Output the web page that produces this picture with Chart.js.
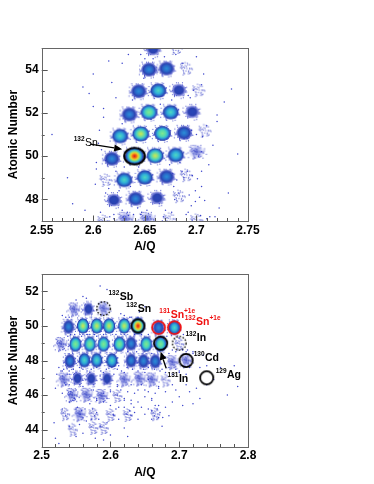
<!DOCTYPE html>
<html><head><meta charset="utf-8">
<script src="https://cdn.jsdelivr.net/npm/chart.js@4"></script>
<style>html,body{margin:0;padding:0;background:#fff}
canvas{position:absolute;left:0;top:0;filter:blur(.3px)}
#w{position:relative;width:374px;height:484px;overflow:hidden}</style>
</head><body><div id="w"><canvas id="a" width="374" height="484"></canvas><canvas id="b" width="374" height="484"></canvas></div>
<script>
const topA=[2.658,2.68,2.654,2.671,2.69,2.644,2.663,2.683,2.702,2.635,2.654,2.675,2.696,2.626,2.646,2.667,2.688,2.708,2.618,2.64,2.66,2.68,2.7,2.612,2.63,2.65,2.671,2.69,2.62,2.641,2.662,2.683,2.61,2.631,2.652,2.674,2.70];
const topZ=[54.95,55,54,54.05,54.05,53,53.03,53.05,53.05,51.93,52.03,52.03,52.05,50.93,51.03,51.05,51.08,51.18,49.88,50,50.02,50.05,50.2,48.9,48.9,49.02,49.05,49.12,47.97,48.03,48.07,48.15,47,47.1,47.1,47.1,47.05];
const topI=[2,0,3,3,0,3,4,2,0,3,5,4,2,4,6,5,3,0,3,8,6,4,1,0,4,4,3,0,2,3,2,0,0,1,1,0,0];
const botA=[2.547,2.568,2.59,2.539,2.56,2.58,2.598,2.62,2.64,2.67,2.693,2.528,2.549,2.57,2.59,2.613,2.63,2.652,2.673,2.70,2.541,2.562,2.58,2.602,2.63,2.648,2.665,2.69,2.71,2.532,2.552,2.572,2.595,2.62,2.642,2.66,2.68,2.544,2.565,2.587,2.61,2.534,2.555,2.575,2.6,2.625,2.665,2.545,2.575,2.59];
const botZ=[50.95,50.98,51,49.95,50,50,50,50,50,49.9,49.9,48.95,48.95,48.95,48.95,48.95,48.98,48.95,48.95,48.95,47.97,48.02,48.02,48,48,47.97,47.95,47.9,48,46.9,46.97,46.95,46.95,46.9,46.95,46.9,46.85,46,46.02,45.95,45.95,44.9,44.9,44.9,44.85,44.85,44.9,44,44.1,44.1];
const botI=[1,2,1,3,6,6,6,6,8,3,4,1,5,5,5,5,3,5,5,0,3,4,4,4,3,3,3,1,1,1,2,2,2,1,1,1,0,1,1,1,0,0,1,0,0,0,0,0,0,0];
const topDotA=[2.56,2.575,2.59,2.6,2.605,2.612,2.58,2.592,2.603,2.61,2.6,2.615,2.607,2.602,2.622,2.618,2.612,2.608,2.62,2.628,2.625,2.634,2.63,2.639,2.643,2.646,2.65,2.638,2.658,2.665,2.669,2.674,2.676,2.68,2.686,2.692,2.695,2.699,2.705,2.712,2.716,2.72,2.727,2.734,2.74,2.731,2.722,2.713,2.707,2.7,2.694,2.688,2.684,2.678,2.67,2.664,2.656,2.649,2.644,2.636,2.628,2.622,2.616,2.61,2.606,2.603,2.596,2.615,2.628,2.634,2.646,2.652,2.668,2.676,2.69,2.696,2.704,2.71,2.718,2.72,2.705,2.697,2.692,2.687,2.683,2.679,2.693,2.699,2.703,2.708,2.71,2.706,2.7,2.695,2.691,2.705,2.702,2.686,2.681,2.677,2.62,2.626,2.633,2.629,2.647,2.655,2.66,2.667,2.688,2.691,2.696,2.701,2.705];
const topDotZ=[51,49,53.2,52.3,50.6,48.3,47.8,47.5,49.4,51.8,53.8,54.4,47.4,48.7,52.7,53.4,49.8,50.3,47.3,54.3,48.4,54.7,49.5,47.3,47.6,54.7,54.5,52.6,54.5,52.4,54.6,49.6,52.6,54.7,54.3,47.4,47.7,48.4,48.6,49.6,50.5,51.6,52.5,53.1,50.1,48.3,47.6,47.2,53.8,54.6,52.7,50.8,49.7,48.6,47.5,47.8,51.7,53.6,49.5,48.6,51.5,49.3,47.2,52.2,51.2,49.7,52.9,48.5,47.5,47.25,47.3,47.5,47.2,47.4,47.3,47,47.25,47.1,47.2,51.9,53.3,53.05,52.8,54.3,48.3,48,48.2,47.9,48.1,47.95,51.4,50.9,51,51.2,50.8,50.2,50,49.3,48.9,49.2,47.1,46.9,47.4,47.2,47.4,47.2,46.95,47,49,49.3,49.1,48.95,49.3];
const botDotA=[2.52,2.525,2.518,2.53,2.535,2.54,2.55,2.555,2.56,2.565,2.572,2.578,2.585,2.59,2.595,2.6,2.605,2.612,2.62,2.625,2.63,2.635,2.64,2.645,2.65,2.655,2.66,2.665,2.67,2.675,2.68,2.685,2.69,2.695,2.7,2.705,2.71,2.715,2.72,2.725,2.73,2.74,2.75,2.76,2.77,2.78,2.785,2.52,2.53,2.54,2.55,2.56,2.57,2.58,2.59,2.6,2.61,2.62,2.63,2.64,2.65,2.66,2.67,2.68,2.69,2.7,2.53,2.533,2.537,2.54,2.552,2.556,2.558,2.56,2.563,2.574,2.577,2.58,2.583,2.6,2.604,2.608,2.612,2.62,2.624,2.628,2.63,2.634,2.66,2.664,2.668,2.672,2.676,2.67,2.655,2.65,2.645,2.64,2.62,2.61,2.605,2.595,2.59,2.585,2.575,2.57,2.565,2.555,2.55,2.54,2.535,2.53,2.522,2.54,2.545,2.55,2.548,2.542,2.57,2.575,2.58,2.59,2.595,2.6,2.58,2.572,2.61,2.615,2.62,2.625,2.63,2.635,2.64,2.65,2.655,2.66,2.665,2.67,2.675,2.68,2.685,2.69,2.695,2.7,2.705,2.71,2.715,2.72,2.73,2.735,2.74,2.68,2.672,2.664,2.655,2.648,2.64,2.632,2.624,2.616,2.61,2.602,2.594,2.586,2.58,2.572,2.566,2.56,2.555,2.546,2.54,2.532,2.528,2.525,2.6,2.612,2.625,2.638,2.65,2.66,2.672,2.685,2.695,2.705,2.71,2.72,2.712,2.706,2.7,2.69,2.682,2.675,2.655,2.645,2.635,2.62,2.608,2.59,2.58,2.57,2.56,2.548,2.538,2.577,2.567,2.558,2.542,2.535,2.55,2.56,2.565,2.585,2.595,2.54,2.53,2.62,2.628,2.615,2.642,2.62,2.63,2.64,2.65];
const botDotZ=[43.5,43.2,44.4,45.2,44.8,44.2,43.6,44.3,43.8,44.5,44.6,43.5,44.2,43.4,44.4,43.7,44.8,45.3,44.1,43.6,45.5,45,44.6,45.3,44.9,45.2,44.6,45.4,44.7,44.2,45.3,44.8,45.6,46.3,45.9,45.4,46.6,46.2,45.5,46.4,45.8,46.6,46.9,47.6,46,47.7,46.5,46.4,46.1,45.6,45.2,46.5,45.5,45.7,45.6,46.3,46.5,45.7,46.6,45.6,46.3,45.7,46.5,46.2,46.6,47.3,47.4,46.7,47.2,46.6,45.3,44.9,45.1,44.7,45.2,45.2,44.8,45,44.6,45.4,44.9,45.2,44.6,45.3,44.9,45.1,44.8,45.3,45.1,44.8,45.2,45,44.7,45.4,46.9,47.3,46.6,47.1,47.3,46.6,47.2,46.7,47.3,47.1,46.6,47.3,47.1,46.6,47.3,47.2,46.6,47.1,47.2,46,45.7,46.3,45.8,46.2,45.9,46.3,45.7,46.1,45.8,46.2,45.8,46.3,46,46.3,45.8,46.2,45.7,46.1,46.3,45.9,46.2,45.8,46.1,46.4,47.5,47.3,47.6,47.2,47.5,47.4,47.7,47.2,47.6,48.4,47.6,48.3,47.7,48.2,47.4,47.5,47.6,47.5,47.4,47.5,47.6,47.4,47.5,47.6,47.5,47.4,47.6,47.5,47.4,47.5,47.6,47.5,47.4,47.5,47.4,47.6,48.3,47.7,48.5,48.5,48.5,48.4,48.5,48.4,48.5,48.6,48.5,48.5,48.6,49.5,49.3,48.6,49.4,48.7,49.5,49.5,49.5,49.5,49.5,49.5,49.4,49.5,49.5,49.5,49.4,49.5,49.5,49.4,49.5,50.5,51.5,51.7,51.6,52.3,52.1,50.5,50.6,50.4,50.5,50.7,50.8,50.6,50.5,50.5,51.1,51.3,50.9,51.2,51.4,50.7,50.9];
const topCircleA=[2.64],topCircleZ=[50];
const blackCircleA=[2.64,2.673,2.71,2.74],blackCircleZ=[50,49,48,47];
const redCircleA=[2.67,2.693],redCircleZ=[49.9,49.9];
const dashCircleA=[2.59,2.70],dashCircleZ=[51,49];
const topLabels=[[2.581,50.45,'132','Sn','#000','']];
const botLabels=[[2.597,51.52,'132','Sb','#000',''],[2.623,50.81,'132','Sn','#000',''],[2.671,50.43,'131','Sn','#f01010','+1e'],[2.708,50.04,'132','Sn','#f01010','+1e'],[2.709,49.14,'132','In','#000',''],[2.721,47.97,'130','Cd','#000',''],[2.753,46.97,'129','Ag','#000',''],[2.683,46.78,'131','In','#000','']];
const topArrows=[[2.597,50.55,2.628,50.32]];
const botArrows=[[2.681,47.55,2.673,48.5]];
const FONT='"Liberation Sans",Arial,sans-serif';
// colour ramp of each intensity, centre first
const ramps=[
 [],
 [[0,'rgba(40,55,190,.8)'],[.5,'rgba(70,85,210,.4)'],[1,'rgba(120,120,240,0)']],
 [[0,'#2848b8'],[.55,'#2a40b0'],[.82,'rgba(60,70,200,.55)'],[1,'rgba(100,110,230,0)']],
 [[0,'#2a90d8'],[.4,'#2a68c8'],[.7,'#2a40b0'],[.9,'rgba(50,60,190,.55)'],[1,'rgba(100,110,230,0)']],
 [[0,'#50d8c0'],[.4,'#30b0d8'],[.65,'#2a70c8'],[.85,'#2a40ac'],[1,'rgba(100,110,230,0)']],
 [[0,'#80e890'],[.4,'#50d8b0'],[.6,'#30b0d8'],[.8,'#2a60c0'],[.93,'rgba(42,56,168,.8)'],[1,'rgba(100,110,230,0)']],
 [[0,'#d0e850'],[.25,'#90e080'],[.5,'#48d0c0'],[.7,'#2a90d0'],[.87,'#2a40ac'],[1,'rgba(100,110,230,0)']],
 [[0,'#f0e030'],[.3,'#80e088'],[.6,'#30a0d8'],[1,'rgba(100,110,230,0)']],
 [[0,'#e01818'],[.22,'#f07018'],[.38,'#f0d028'],[.52,'#90e070'],[.66,'#38c0d0'],[.82,'#2a70c8'],[.95,'#2a38a8'],[1,'rgba(60,70,200,.3)']]
];
const speckN=[30,44,60,70,70,70,70,70,70];
const sizeOf=[1,1,.92,1,1.03,1.05,1.08,1.08,1.15];
function tex(i){const s=Math.sin(i*12.9898)*43758.5453;return s-Math.floor(s);}
function blobSprite(level,rx0,ry0){
  const rx=rx0*sizeOf[level],ry=ry0*sizeOf[level];
  const S=Math.ceil(Math.max(rx,ry)*2.6)+2,c=document.createElement('canvas');c.width=c.height=S;
  const g=c.getContext('2d'),m=S/2;
  if(ramps[level].length){
    g.save();g.translate(m,m);g.scale(rx,ry);
    const gr=g.createRadialGradient(0,0,0,0,0,1);
    ramps[level].forEach(s=>gr.addColorStop(s[0],s[1]));
    g.fillStyle=gr;g.beginPath();g.arc(0,0,1,0,7);g.fill();g.restore();
  }
  const n=speckN[level];
  g.fillStyle='rgba(40,50,195,.85)';
  for(let i=0;i<n;i++){
    const t=Math.sqrt((i+.5)/n),a=i*2.39996+tex(i)*1.2,q=(level===0?.95:1.22)*t*(.8+.3*tex(i+50));
    if(level>=2&&q<.85)continue;
    g.fillRect(m+Math.cos(a)*rx*q-.5,m+Math.sin(a)*ry*q-.5,1,1);
  }
  return c;
}
function ringSprite(rx,ry,color,w,dash){
  const S=Math.ceil(Math.max(rx,ry)*2+w*2+2),c=document.createElement('canvas');c.width=c.height=S;
  const g=c.getContext('2d');g.strokeStyle=color;g.lineWidth=w;if(dash)g.setLineDash(dash);
  g.beginPath();g.ellipse(S/2,S/2,rx,ry,0,0,Math.PI*2);g.stroke();return c;
}
function blobDatasets(A,Z,I,rx,ry){
  const ds=[];
  for(let k=0;k<9;k++){
    const d=[];
    A.forEach((a,i)=>{if(I[i]===k)d.push({x:a,y:Z[i]});});
    if(d.length)ds.push({data:d,pointStyle:blobSprite(k,rx,ry),pointRadius:5,pointHoverRadius:5,order:10-k});
  }
  return ds;
}
function ring(A,Z,sprite){
  return {data:A.map((a,i)=>({x:a,y:Z[i]})),pointStyle:sprite,pointRadius:5,order:0};
}
function dots(A,Z){return {data:A.map((a,i)=>({x:a,y:Z[i]})),pointRadius:.75,pointBorderWidth:0,backgroundColor:'rgba(40,50,200,.9)',order:20};}
const ornaments={id:'ornaments',afterDatasetsDraw(c,_,o){
  const g=c.ctx,X=c.scales.x,Y=c.scales.y,ca=c.chartArea;
  g.save();
  g.strokeStyle='#000';g.fillStyle='#000';g.lineWidth=1.3;
  o.arrows.forEach(a=>{
    const x0=X.getPixelForValue(a[0]),y0=Y.getPixelForValue(a[1]),x1=X.getPixelForValue(a[2]),y1=Y.getPixelForValue(a[3]);
    const t=Math.atan2(y1-y0,x1-x0),L=8,W=3.5;
    g.beginPath();g.moveTo(x0,y0);g.lineTo(x1-L*Math.cos(t),y1-L*Math.sin(t));g.stroke();
    g.beginPath();g.moveTo(x1,y1);
    g.lineTo(x1-L*Math.cos(t)-W*Math.sin(t),y1-L*Math.sin(t)+W*Math.cos(t));
    g.lineTo(x1-L*Math.cos(t)+W*Math.sin(t),y1-L*Math.sin(t)-W*Math.cos(t));g.closePath();g.fill();
  });
  g.textBaseline='alphabetic';
  o.labels.forEach(l=>{
    let x=X.getPixelForValue(l[0]);const y=Y.getPixelForValue(l[1]);
    g.fillStyle=l[4];
    g.font='bold 6.5px '+FONT;g.fillText(l[2],x,y-5);x+=g.measureText(l[2]).width+.5;
    g.font=o.weight+' 10.5px '+FONT;g.fillText(l[3],x,y);x+=g.measureText(l[3]).width;
    if(l[5]){g.font='bold 6.5px '+FONT;g.fillText(l[5],x,y-5);}
  });
  g.restore();
  g.save();
  g.strokeStyle='#555';g.lineWidth=1;
  X.ticks.forEach(t=>{const p=Math.round(X.getPixelForValue(t.value))+.5,L=t.label?5.5:3;
    g.beginPath();g.moveTo(p,ca.bottom);g.lineTo(p,ca.bottom-L);g.stroke();});
  Y.ticks.forEach(t=>{const p=Math.round(Y.getPixelForValue(t.value))+.5,L=t.label?6:3;
    g.beginPath();g.moveTo(ca.left,p);g.lineTo(ca.left+L,p);g.stroke();});
  g.strokeStyle='#666';g.lineWidth=1;g.strokeRect(Math.round(ca.left)+.5,Math.round(ca.top)+.5,Math.round(ca.width),Math.round(ca.height));
  g.restore();
}};
Chart.register(ornaments);
function make(id,datasets,xr,yr,xStep,xMajor,pad,labels,arrows,weight){
  return new Chart(document.getElementById(id),{
    type:'scatter',
    data:{datasets},
    options:{responsive:false,animation:false,events:[],
      layout:{padding:{left:pad.left,top:pad.top,right:pad.right,bottom:pad.bottom}},
      plugins:{legend:{display:false},tooltip:{enabled:false},ornaments:{labels,arrows,weight}},
      scales:{
        x:{type:'linear',min:xr[0],max:xr[1],
          grid:{display:false,drawTicks:false},border:{display:false},
          title:{display:true,text:'A/Q',color:'#000',font:{family:FONT,weight:'bold',size:12},padding:{top:3,bottom:0}},
          ticks:{stepSize:xStep,autoSkip:false,maxRotation:0,padding:pad.xp,color:'#000',font:{family:FONT,weight:'bold',size:12},
            callback(v){const q=v/xMajor;return Math.abs(q-Math.round(q))<1e-6?String(+v.toFixed(2)):'';}},
          afterFit(s){s.height=pad.xh;}},
        y:{type:'linear',min:yr[0],max:yr[1],
          grid:{display:false,drawTicks:false},border:{display:false},
          title:{display:true,text:'Atomic Number',color:'#000',font:{family:FONT,weight:'bold',size:12},padding:{top:0,bottom:4}},
          ticks:{stepSize:1,autoSkip:false,padding:3,color:'#000',font:{family:FONT,weight:'bold',size:12},
            callback(v){return v%2===0?String(v):'';}},
          afterFit(s){s.width=pad.yw;}}
      }
    }
  });
}
make('a',[...blobDatasets(topA,topZ,topI,8.3,7.5),dots(topDotA,topDotZ),ring(topCircleA,topCircleZ,ringSprite(10.3,8.3,'#000',2))],
  [2.55,2.75],[47,55],.01,.05,{left:6,top:48,right:126,bottom:230,xh:33,yw:35.7,xp:2},topLabels,topArrows,'normal');
make('b',[...blobDatasets(botA,botZ,botI,6,7.6),dots(botDotA,botDotZ),ring(blackCircleA,blackCircleZ,ringSprite(6.6,6.6,'#000',1.8)),ring(redCircleA,redCircleZ,ringSprite(6.4,6.4,'#f01010',1.8)),ring(dashCircleA,dashCircleZ,ringSprite(6.8,6.8,'#000',1.3,[1.6,1.6]))],
  [2.5,2.8],[43,53],.02,.1,{left:6,top:274,right:126,bottom:4,xh:33,yw:35.7,xp:1},botLabels,botArrows,'bold');
</script></body></html>
